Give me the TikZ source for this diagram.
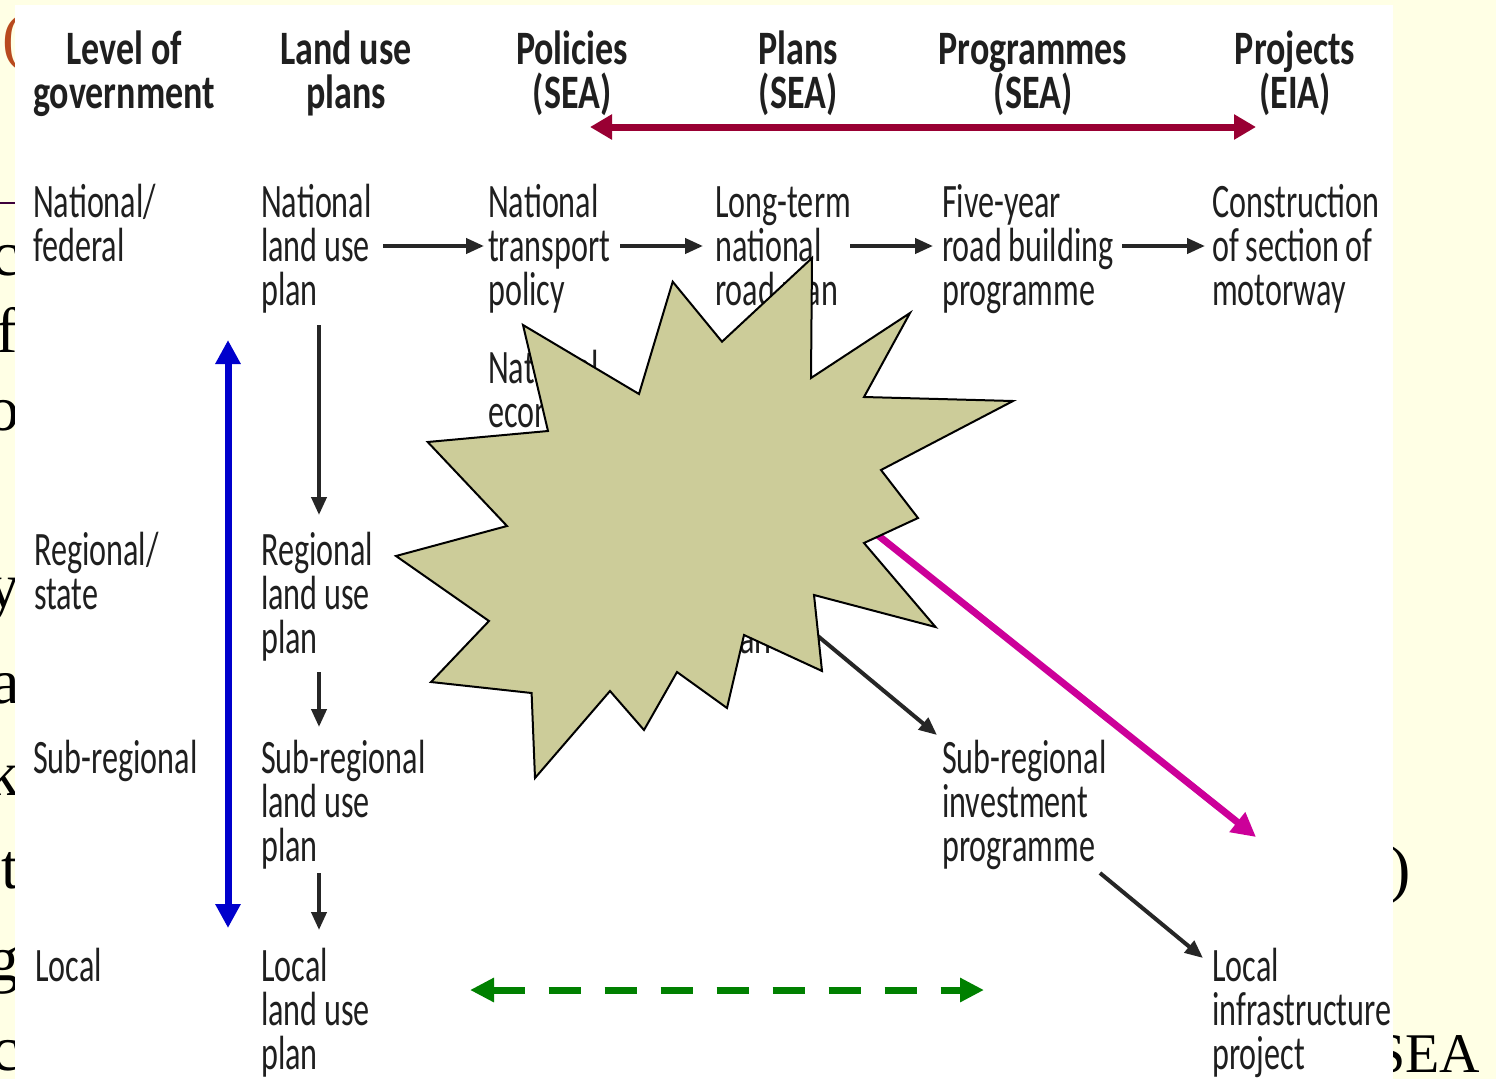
\documentclass[tikz,border=0pt]{standalone}
\usepackage{fontspec}
\setmainfont{Carlito}
\newfontfamily\bodyf{Carlito}[FakeStretch=0.67]
\newfontfamily\headf{Carlito}[FakeStretch=0.75]
\newfontfamily\slidef{Liberation Serif}
\newcommand\mybodyfont{\bodyf\fontsize{48}{44}\selectfont}
\newcommand\myheadfont{\headf\bfseries\fontsize{48}{44}\selectfont}
\newcommand\ws{\hspace{6.5pt}}
\newcommand\hws{\hspace{8pt}}
\usetikzlibrary{arrows.meta}
\definecolor{slidebg}{RGB}{255,255,229}
\definecolor{starfill}{RGB}{204,204,153}
\definecolor{crimsonarr}{RGB}{153,0,51}
\definecolor{bluearr}{RGB}{0,0,204}
\definecolor{magarr}{RGB}{204,0,153}
\definecolor{greenarr}{RGB}{0,128,0}
\definecolor{titlebrown}{RGB}{184,74,30}
\definecolor{rulepurple}{RGB}{60,0,60}
\tikzset{
  lbl/.style={anchor=base west, inner sep=0pt, text width=230pt, align=left,
    font=\mybodyfont, text=black!88},
  hdr/.style={anchor=base, inner sep=0pt, text width=260pt, align=center,
    font=\myheadfont, text=black!88},
  slidetxt/.style={inner sep=0pt, font=\slidef\fontsize{64}{64}\selectfont, text=black},
  flow/.style={line width=4pt, draw=black!85, -{Triangle[length=18pt,width=15pt]}},
  blueline/.style={draw=bluearr, line width=7pt, {Triangle[length=24pt,width=24pt]}-{Triangle[length=24pt,width=24pt]}},
  crimsonline/.style={draw=crimsonarr, line width=7pt, {Triangle[length=22pt,width=24pt]}-{Triangle[length=22pt,width=24pt]}},
  magline/.style={draw=magarr, line width=7pt, -{Triangle[length=24pt,width=24pt]}},
  greenline/.style={draw=greenarr, line width=7pt, dash pattern=on 32pt off 24pt, {Triangle[length=24pt,width=23pt]}-{Triangle[length=24pt,width=23pt]}},
  burst/.style={draw=black, line width=2pt, fill=starfill, line join=miter}
}
\begin{document}
\begin{tikzpicture}[x=1pt,y=-1pt]
\useasboundingbox (0,0) rectangle (1496,1079);
% slide background and the slide text peeking out
\fill[slidebg] (0,0) rectangle (1496,1079);
\node[slidetxt, anchor=base west, text=titlebrown] (sp) at (2,58) {(};
\draw[rulepurple, line width=2pt] (0,203) -- (16,203);
\node[slidetxt, anchor=base east] (s1) at (20,275) {c};
\node[slidetxt, anchor=base east] (s2) at (18,352) {f};
\node[slidetxt, anchor=base east] (s3) at (20,430) {o};
\node[slidetxt, anchor=base east] (s4) at (20,607) {y};
\node[slidetxt, anchor=base east] (s5) at (20,703) {a};
\node[slidetxt, anchor=base east] (s6) at (20,795) {k};
\node[slidetxt, anchor=base east] (s7) at (19,888) {t};
\node[slidetxt, anchor=base east] (s8) at (20,980) {g};
\node[slidetxt, anchor=base east] (s9) at (20,1070) {c};
\node[slidetxt, anchor=base west] (s10) at (1389,890) {)};
\node[slidetxt, anchor=base west, font=\slidef\fontsize{56}{56}\selectfont] (s11) at (1374,1072) {SEA};
% white picture area
\fill[white] (15,5) rectangle (1393,1079);
% headers
\node[hdr] (h1) at (124,64) {Level\hws of\\government};
\node[hdr] (h2) at (346,64) {Land\hws use\\plans};
\node[hdr] (h3) at (572,64) {Policies\\(SEA)};
\node[hdr] (h4) at (798,64) {Plans\\(SEA)};
\node[hdr] (h5) at (1033,64) {Programmes\\(SEA)};
\node[hdr] (h6) at (1295,64) {Projects\\(EIA)};
% level of government
\node[lbl] (g1) at (33,217) {National/\\federal};
\node[lbl] (g2) at (34,565) {Regional/\\state};
\node[lbl] (g3) at (33,773) {Sub-regional};
\node[lbl] (g4) at (35,981) {Local};
% land use plans
\node[lbl] (l1) at (261,217) {National\\land\ws use\\plan};
\node[lbl] (l2) at (261,565) {Regional\\land\ws use\\plan};
\node[lbl] (l3) at (261,773) {Sub-regional\\land\ws use\\plan};
\node[lbl] (l4) at (261,981) {Local\\land\ws use\\plan};
% policies
\node[lbl] (p1) at (488,217) {National\\transport\\policy};
\node[lbl] (p2) at (488,383) {National\\economic};
% plans
\node[lbl] (n1) at (715,217) {Long-term\\national\\road\ws plan};
\node[lbl] (n2) at (715,565) {Regional\\road\\plan};
% programmes
\node[lbl] (r1) at (942,217) {Five-year\\road\ws building\\programme};
\node[lbl] (r2) at (942,773) {Sub-regional\\investment\\programme};
% projects
\node[lbl] (j1) at (1212,217) {Construction\\of\ws section\ws of\\motorway};
\node[lbl] (j2) at (1212,981) {Local\\infrastructure\\project};
% connector end points
\coordinate (l1out) at (383,246);  \coordinate (p1in) at (484,246);
\coordinate (p1out) at (620,246);  \coordinate (n1in) at (703,246);
\coordinate (n1out) at (850,246);  \coordinate (r1in) at (933,246);
\coordinate (r1out) at (1122,246); \coordinate (j1in) at (1205,246);
\coordinate (l1down) at (319,325); \coordinate (l2in) at (319,515);
\coordinate (l2down) at (319,672); \coordinate (l3in) at (319,727);
\coordinate (l3down) at (319,873); \coordinate (l4in) at (319,930);
\coordinate (n2out) at (760,588);  \coordinate (r2in) at (937,735);
\coordinate (r2out) at (1100,873); \coordinate (j2in) at (1203,958);
\coordinate (blueTop) at (228,340); \coordinate (blueBot) at (228,928);
\coordinate (crimL) at (590,127);  \coordinate (crimR) at (1256,127);
\coordinate (greenL) at (470,990); \coordinate (greenR) at (984,990);
\coordinate (magS) at (820,489);   \coordinate (magE) at (1256,837);
% black flow arrows
\draw[flow] (l1out) -- (p1in);
\draw[flow] (p1out) -- (n1in);
\draw[flow] (n1out) -- (r1in);
\draw[flow] (r1out) -- (j1in);
\draw[flow] (l1down) -- (l2in);
\draw[flow] (l2down) -- (l3in);
\draw[flow] (l3down) -- (l4in);
\draw[flow] (n2out) -- (r2in);
\draw[flow] (r2out) -- (j2in);
% coloured arrows
\draw[blueline] (blueTop) -- (blueBot);
\draw[crimsonline] (crimL) -- (crimR);
\draw[greenline] (greenL) -- (greenR);
\draw[magline] (magS) -- (magE);
% explosion
\draw[burst] (672.7,281.7) -- (722,341.7) -- (812,258) -- (811,378) -- (910,313)
  -- (864,397) -- (1013,401) -- (881,470) -- (918,518) -- (864,543) -- (935.5,627)
  -- (814,595) -- (822,671) -- (744,635) -- (727,708) -- (677,672) -- (644,730)
  -- (610,691) -- (535,778) -- (531.6,693) -- (431,682) -- (489,621) -- (396,556)
  -- (507,526) -- (427.7,442) -- (548,431) -- (523,325) -- (639,394) -- cycle;
\end{tikzpicture}
\end{document}
